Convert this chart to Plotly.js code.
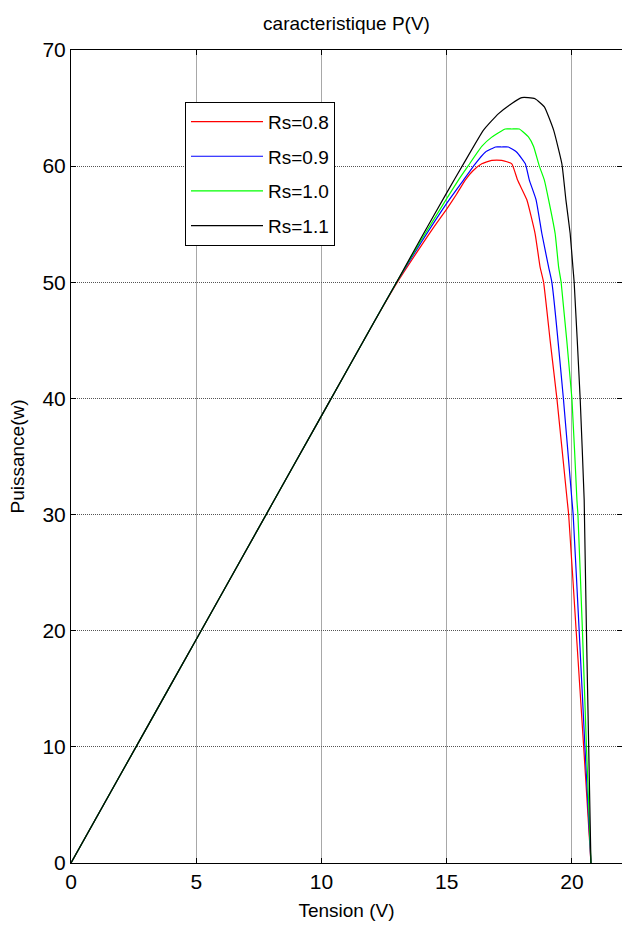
<!DOCTYPE html>
<html>
<head>
<meta charset="utf-8">
<script src="https://cdn.plot.ly/plotly-3.0.1.min.js"></script>
<style>
html,body{margin:0;padding:0;background:#fff;overflow:hidden;}
#chart{width:622px;height:930px;}
</style>
</head>
<body>
<div id="chart"></div>
<script>
// Data: P (W) vs V (V) for several Rs
const seriesNames = ["Rs=0.8", "Rs=0.9", "Rs=1.0", "Rs=1.1"];
const seriesColors = ["#ff0000", "#0000ff", "#00ff00", "#000000"];

const vRs08 = [0, 2, 4, 6, 8, 10, 12, 13, 14, 14.5, 15, 15.4, 15.74, 16.05, 16.4, 16.8, 17.2, 17.6, 17.83, 18.2, 18.53, 18.73, 18.87, 19.13, 19.4, 19.81, 19.87, 20.17, 20.47, 20.76];
const pRs08 = [0, 7.7, 15.4, 23.1, 30.8, 38.5, 46.2, 49.9, 53.2, 54.8, 56.3, 57.6, 58.8, 59.6, 60.2, 60.5, 60.5, 60.2, 58.8, 57.1, 54.2, 51.3, 50, 45, 40, 31.25, 30, 20, 10, 0];

const vRs09 = [0, 2, 4, 6, 8, 10, 12, 13, 14, 15, 15.67, 16.14, 16.54, 16.95, 17.2, 17.46, 17.8, 18.14, 18.3, 18.57, 18.8, 19.07, 19.2, 19.66, 20.0, 20.05, 20.29, 20.52, 20.76];
const pRs09 = [0, 7.7, 15.4, 23.1, 30.8, 38.5, 46.2, 50, 53.5, 56.8, 58.8, 60.2, 61.2, 61.65, 61.65, 61.65, 61.2, 60.2, 58.8, 57.1, 54.2, 51.3, 50, 40, 31.25, 30, 20, 10, 0];

const vRs10 = [0, 2, 4, 6, 8, 10, 12, 13, 14, 15, 15.5, 15.85, 16.4, 16.8, 17.34, 17.6, 17.9, 18.27, 18.47, 18.7, 18.9, 19.07, 19.33, 19.47, 19.57, 20.0, 20.2, 20.24, 20.42, 20.58, 20.76];
const pRs10 = [0, 7.7, 15.4, 23.1, 30.8, 38.5, 46.2, 50, 53.7, 57.2, 58.9, 60.0, 61.7, 62.5, 63.2, 63.2, 63.2, 62.5, 61.7, 60.0, 58.8, 57.1, 54.2, 51.3, 50, 40, 31.25, 30, 20, 10, 0];

const vRs11 = [0, 2, 4, 6, 8, 10, 12, 13, 14, 15, 15.7, 16.47, 17.06, 17.6, 18.0, 18.25, 18.53, 18.9, 19.27, 19.6, 19.76, 19.93, 20.04, 20.09, 20.33, 20.49, 20.5, 20.58, 20.67, 20.76];
const pRs11 = [0, 7.7, 15.4, 23.1, 30.8, 38.5, 46.2, 50, 53.9, 57.7, 60.3, 63.1, 64.5, 65.4, 65.9, 65.9, 65.8, 65.1, 63.1, 60.2, 57.1, 54.2, 51.3, 50, 40, 31.25, 30, 20, 10, 0];

const xTicks = [0, 5, 10, 15, 20];
const yTicks = [0, 10, 20, 30, 40, 50, 60, 70];

const xs = [vRs08, vRs09, vRs10, vRs11];
const ys = [pRs08, pRs09, pRs10, pRs11];

const FONT = "Arial, 'Liberation Sans', sans-serif";

const traces = seriesNames.map((n, i) => ({
  type: "scatter",
  mode: "lines",
  x: xs[i],
  y: ys[i],
  name: n,
  legendgroup: "g" + i,
  line: {color: seriesColors[i], width: 1.2, shape: "spline", smoothing: 0.4},
  hoverinfo: "skip"
}));

const layout = {
  width: 622,
  height: 930,
  paper_bgcolor: "#ffffff",
  plot_bgcolor: "#ffffff",
  margin: {l: 71, r: 0, t: 50, b: 67},
  font: {family: FONT, color: "#000", size: 19},
  title: {
    text: "caracteristique P(V)",
    font: {family: FONT, size: 19, color: "#000"},
    x: 0.5, xref: "paper", xanchor: "center",
    y: 1 - 23 / 930, yref: "container", yanchor: "middle"
  },
  xaxis: {
    range: [0, 22],
    tickvals: xTicks,
    ticktext: xTicks.map(String),
    ticks: "inside",
    ticklen: 5,
    tickcolor: "#000",
    showline: true,
    linecolor: "#000",
    linewidth: 1,
    mirror: "ticks",
    showgrid: true,
    gridcolor: "#a8a8a8",
    gridwidth: 1,
    zeroline: false,
    tickfont: {family: FONT, size: 21, color: "#000"},
    title: {text: "Tension (V)", font: {family: FONT, size: 19, color: "#000"}, standoff: 11}
  },
  yaxis: {
    range: [0, 70],
    tickvals: yTicks,
    ticktext: yTicks.map(String),
    ticks: "inside",
    ticklen: 5,
    tickcolor: "#000",
    showline: true,
    linecolor: "#000",
    linewidth: 1,
    mirror: "ticks",
    showgrid: true,
    gridcolor: "#555555",
    gridwidth: 1,
    griddash: "1px,1px",
    zeroline: false,
    tickfont: {family: FONT, size: 21, color: "#000"},
    title: {text: "Puissance(w)", font: {family: FONT, size: 19, color: "#000"}, standoff: 12}
  },
  showlegend: true,
  legend: {
    x: (185 - 71) / 551,
    y: (863 - 101.7) / 813,
    xanchor: "left",
    yanchor: "top",
    bgcolor: "#ffffff",
    bordercolor: "#000",
    borderwidth: 1,
    font: {family: FONT, size: 19, color: "#000"},
    itemwidth: 72,
    tracegroupgap: 7,
    entrywidth: 171,
    entrywidthmode: "pixels",
    traceorder: "grouped"
  }
};

Plotly.newPlot("chart", traces, layout, {staticPlot: true, displayModeBar: false});
</script>
</body>
</html>
